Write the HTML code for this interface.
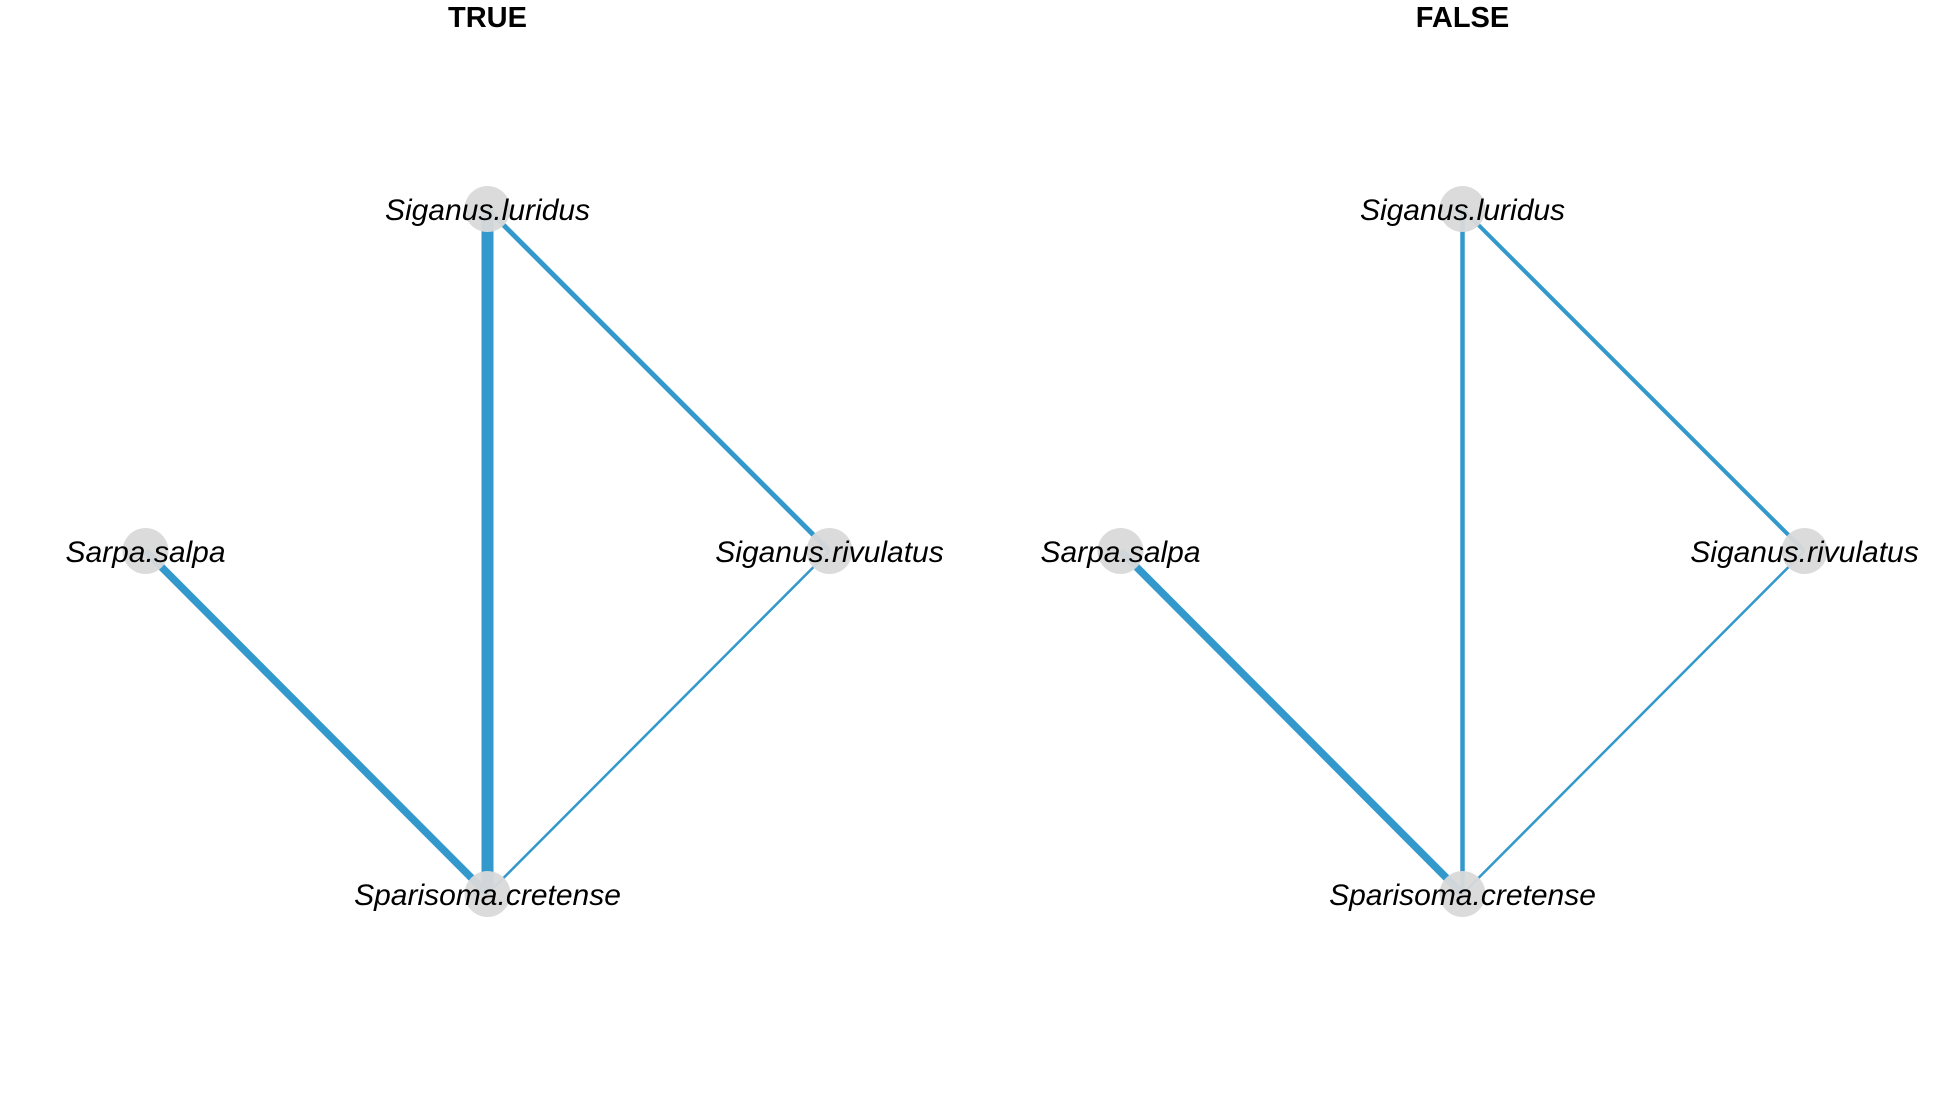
<!DOCTYPE html>
<html><head><meta charset="utf-8"><style>html,body{margin:0;padding:0;background:#fff}</style></head>
<body>
<svg width="1950" height="1107" xmlns="http://www.w3.org/2000/svg" font-family="Liberation Sans, sans-serif">
<rect width="1950" height="1107" fill="#fff"/>
<g stroke="#3399cc" stroke-linecap="butt">
<line x1="487.5" y1="209" x2="487.5" y2="894" stroke-width="12"/>
<line x1="145.5" y1="551" x2="487.5" y2="894" stroke-width="7.5"/>
<line x1="487.5" y1="209" x2="829.5" y2="551" stroke-width="5"/>
<line x1="829.5" y1="551" x2="487.5" y2="894" stroke-width="2.5"/>
<line x1="1462.5" y1="209" x2="1462.5" y2="894" stroke-width="4.5"/>
<line x1="1120.5" y1="551" x2="1462.5" y2="894" stroke-width="7.5"/>
<line x1="1462.5" y1="209" x2="1804.5" y2="551" stroke-width="4"/>
<line x1="1804.5" y1="551" x2="1462.5" y2="894" stroke-width="2.5"/>
</g>
<g fill="#d9d9d9" fill-opacity="0.95">
<circle cx="487.5" cy="209" r="23"/><circle cx="145.5" cy="551" r="23"/><circle cx="829.5" cy="551" r="23"/><circle cx="487.5" cy="894" r="23"/>
<circle cx="1462.5" cy="209" r="23"/><circle cx="1120.5" cy="551" r="23"/><circle cx="1804.5" cy="551" r="23"/><circle cx="1462.5" cy="894" r="23"/>
</g>
<g font-size="29" font-weight="bold" text-anchor="middle">
<text x="487.5" y="27">TRUE</text><text x="1462.5" y="27">FALSE</text>
</g>
<g font-size="30" font-style="italic" text-anchor="middle">
<text x="487.5" y="220">Siganus.luridus</text>
<text x="145.5" y="562">Sarpa.salpa</text>
<text x="829.5" y="562">Siganus.rivulatus</text>
<text x="487.5" y="905">Sparisoma.cretense</text>
<text x="1462.5" y="220">Siganus.luridus</text>
<text x="1120.5" y="562">Sarpa.salpa</text>
<text x="1804.5" y="562">Siganus.rivulatus</text>
<text x="1462.5" y="905">Sparisoma.cretense</text>
</g>
</svg>
</body></html>
